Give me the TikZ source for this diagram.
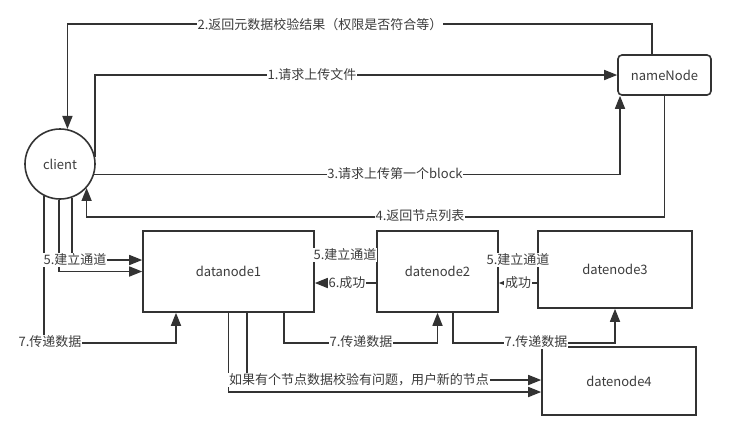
\documentclass[tikz,border=0pt]{standalone}
\usepackage{fontspec}
\setmainfont{Noto Sans CJK SC}
\usetikzlibrary{arrows.meta,calc}
\definecolor{ink}{HTML}{333333}
\definecolor{txt}{HTML}{3C3C3C}
\begin{document}
\begin{tikzpicture}[x=1pt,y=-1pt,
  every node/.style={font=\fontsize{13}{15}\selectfont, text=txt},
  box/.style={draw=ink, line width=1.6pt, inner sep=0pt},
  conn/.style={draw=ink, line width=1.6pt, -{Triangle[length=13pt,width=10pt]}},
  lbl/.style={fill=white, inner sep=0.6pt}]
\useasboundingbox (0,0) rectangle (737,440);
\fill[white] (0,0) rectangle (737,440);

\node[box, circle, minimum size=70pt] (client) at (60,164) {client};
\node[box, rounded corners=4pt, minimum width=93pt, minimum height=40pt] (nn) at (664.5,75) {nameNode};
\node[box, minimum width=171pt, minimum height=81pt] (dn1) at (228.5,271.5) {datanode1};
\node[box, minimum width=121pt, minimum height=81pt] (dn2) at (437.5,271.5) {datenode2};
\node[box, minimum width=154pt, minimum height=77pt] (dn3) at (615,269.5) {datenode3};
\node[box, minimum width=154pt, minimum height=68pt] (dn4) at (619,381) {datenode4};

% client <-> nameNode
\draw[conn] (client.12) |- (nn.west);
\draw[conn] ([xshift=-12.5pt]nn.north) -- ++(0,-30) -| (client.78);
\draw[conn] (client.-17) -| ([xshift=-44.5pt]nn.south);
\draw[conn] (nn.south) -- ++(0,121) -| (client.-42);

% client -> datanode1
\draw[conn] (client.-117) |- ([xshift=-52.5pt,yshift=-30pt]dn1.south) -- ([xshift=-52.5pt]dn1.south);
\draw[conn] (client.-92) |- (dn1.west);
\draw[conn] (client.-70) |- ([yshift=11.5pt]dn1.west);

% datanode chain
\draw[conn] ([yshift=16.5pt]dn1.east) -- ([yshift=16.5pt]dn1.east -| dn2.west);
\draw[conn] ([yshift=-11.5pt]dn2.west) -- ([yshift=-11.5pt]dn2.west -| dn1.east);
\draw[conn] ([yshift=11.5pt]dn2.east) -- ([yshift=11.5pt]dn2.east -| dn3.west);
\draw[conn] ([yshift=-11.5pt]dn2.east -| dn3.west) -- ([yshift=-11.5pt]dn2.east);

% data transfer
\draw[conn] ([xshift=55.5pt]dn1.south) -- ++(0,30) -| (dn2.south);
\draw[conn] ([xshift=18.5pt]dn1.south) |- ([yshift=1pt]dn4.west);
\draw[conn] (dn1.south) |- ([yshift=-11pt]dn4.west);
\draw[conn] ([xshift=15.5pt]dn2.south) -- ++(0,30) -| (dn3.south);

% labels
\node[lbl] (l1) at (312,75) {1.请求上传文件};
\node[lbl] (l2) at (320,25) {2.返回元数据校验结果（权限是否符合等）};
\node[lbl] (l3) at (395,174) {3.请求上传第一个block};
\node[lbl] (l4) at (420,216) {4.返回节点列表};
\node[lbl] (l5a) at (75,260) {5.建立通道};
\node[lbl] (l5b) at (345,255) {5.建立通道};
\node[lbl] (l5c) at (518,260) {5.建立通道};
\node[lbl] (l6a) at (347,283) {6.成功};
\node[lbl] (l6b) at (518,283) {成功};
\node[lbl] (l7a) at (50,342) {7.传递数据};
\node[lbl] (l7b) at (361,342) {7.传递数据};
\node[lbl] (l7c) at (536,342) {7.传递数据};
\node[lbl] (l8) at (359,380) {如果有个节点数据校验有问题，用户新的节点};
\end{tikzpicture}
\end{document}
